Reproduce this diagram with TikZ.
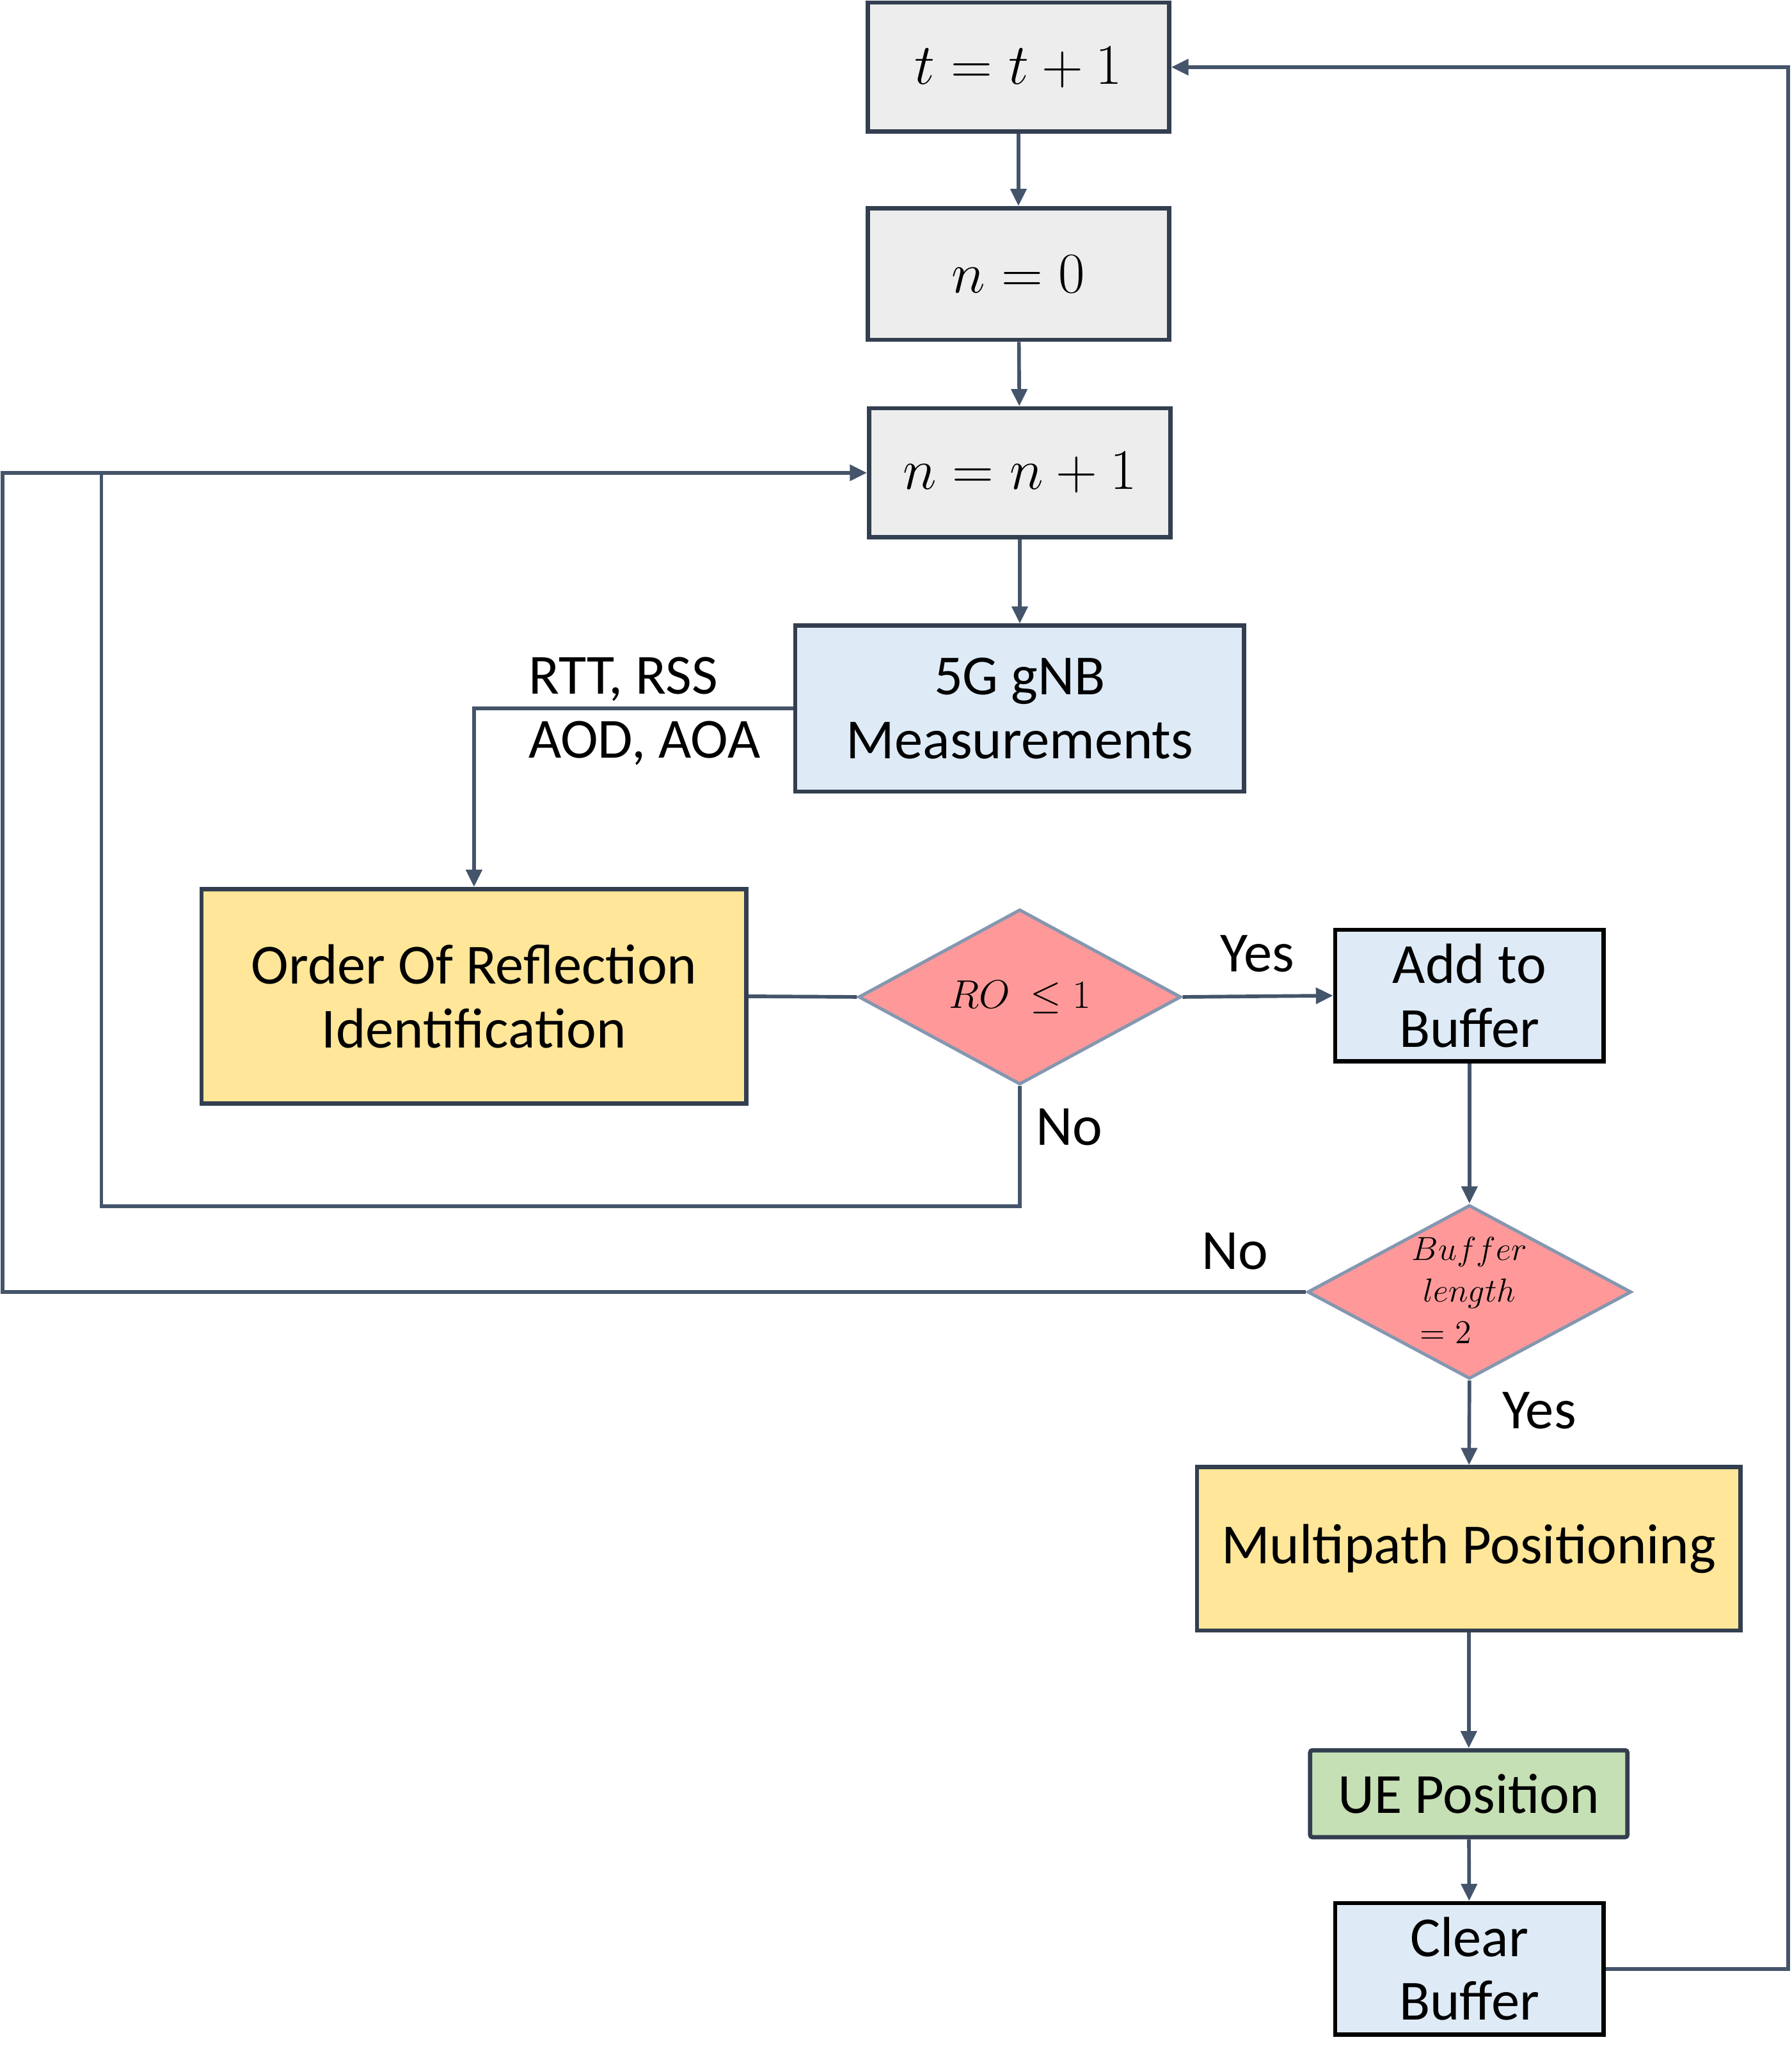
\documentclass[tikz,border=0pt]{standalone}
\usepackage{fontspec}
\setmainfont{Carlito}
\usetikzlibrary{arrows.meta,positioning,shapes.geometric}
\definecolor{edgec}{HTML}{333F50}
\definecolor{linec}{HTML}{44546A}
\definecolor{grayc}{HTML}{EDEDED}
\definecolor{bluec}{HTML}{DEEBF7}
\definecolor{yellc}{HTML}{FFE699}
\definecolor{redc}{HTML}{FF9999}
\definecolor{redb}{HTML}{8497B0}
\definecolor{greenc}{HTML}{C5E0B4}

\begin{document}
\begin{tikzpicture}[x=0.02cm, y=-0.02cm,
  every node/.style={font=\fontsize{24.5}{27.5}\selectfont, inner sep=0pt, align=center},
  procbox/.style={rectangle, draw=edgec, line width=1.85pt},
  blackbox/.style={rectangle, draw=black, line width=1.85pt, fill=bluec},
  decision/.style={diamond, draw=redb, fill=redc, line width=1.4pt},
  flow/.style={draw=linec, line width=1.57pt},
  lbl/.style={font=\fontsize{24.5}{27.5}\selectfont},
  >={Triangle[length=0.26cm, width=0.24cm]}]
  \useasboundingbox (0,0) rectangle (1361,1568);

  % counters
  \node[procbox, fill=grayc, minimum width=4.58cm, minimum height=1.96cm, font=\fontsize{23}{27}\selectfont] (tinc) at (773.5,51) {$t = t + 1$};
  \node[procbox, fill=grayc, minimum width=4.58cm, minimum height=2cm, font=\fontsize{23}{27}\selectfont] (nzero) at (773.5,208) {$n = 0$};
  \node[procbox, fill=grayc, minimum width=4.58cm, minimum height=1.96cm, font=\fontsize{23}{27}\selectfont] (ninc) at (774.5,359) {$n = n + 1$};

  % measurement and reflection order
  \node[procbox, fill=bluec, minimum width=6.82cm, minimum height=2.52cm] (meas) at (774.5,538) {5G gNB\\Measurements};
  \node[procbox, fill=yellc, minimum width=8.28cm, minimum height=3.26cm] (order) at (360,756.5) {Order Of Reflection\\Identification};
  \node[decision, minimum width=4.9cm, minimum height=2.66cm, font=\fontsize{17}{20}\selectfont] (ro) at (774.5,757) {$RO\ \leq 1$};

  % buffer
  \node[blackbox, minimum width=4.08cm, minimum height=2cm] (addbuf) at (1116,756) {Add to\\Buffer};
  \node[decision, minimum width=4.92cm, minimum height=2.64cm, font=\fontsize{15}{18}\selectfont] (buflen) at (1116,981)
    {\raisebox{-0.3cm}{\smash{\begin{tabular}{@{}c@{}}$Buffer$\\$length$\\$=2\hphantom{gth}$\end{tabular}}}};
  \node[procbox, fill=yellc, minimum width=8.26cm, minimum height=2.48cm] (multi) at (1115.5,1176) {Multipath Positioning};
  \node[procbox, fill=greenc, rounded corners=1pt, minimum width=4.82cm, minimum height=1.32cm] (uepos) at (1115.5,1362) {UE Position};
  \node[blackbox, minimum width=4.08cm, minimum height=2cm] (clearbuf) at (1116,1495) {Clear\\Buffer};

  % loop corners
  \coordinate (loopin) at (77,916);
  \coordinate (loopout) at (2,981);
  \coordinate (loopback) at (1358,1495);

  % connectors
  \draw[flow, ->] (tinc) -- (nzero);
  \draw[flow, ->] (nzero) -- (ninc);
  \draw[flow, ->] (ninc) -- (meas);
  \draw[flow, ->] (meas.west) -| (order.north);
  \draw[flow] (order.east) -- (ro.west);
  \draw[flow, ->] (ro.east) -- (addbuf.west);
  \draw[flow, ->] (ro.south) |- (loopin) |- (ninc.west);
  \draw[flow, ->] (addbuf) -- (buflen.north);
  \draw[flow] (buflen.west) -- (loopout) |- (loopin |- ninc.west);
  \draw[flow, ->] (buflen.south) -- (multi);
  \draw[flow, ->] (multi) -- (uepos);
  \draw[flow, ->] (uepos) -- (clearbuf);
  \draw[flow, ->] (clearbuf.east) -- (loopback) |- (tinc.east);

  % labels
  \node[lbl, anchor=west, align=left] (measlbl) at (401,540) {RTT, RSS\\AOD, AOA};
  \node[lbl] (yesro) at (955,724) {Yes};
  \node[lbl] (noro) at (812,856) {No};
  \node[lbl] (nobuf) at (938,950) {No};
  \node[lbl] (yesbuf) at (1169,1071) {Yes};
\end{tikzpicture}
\end{document}
